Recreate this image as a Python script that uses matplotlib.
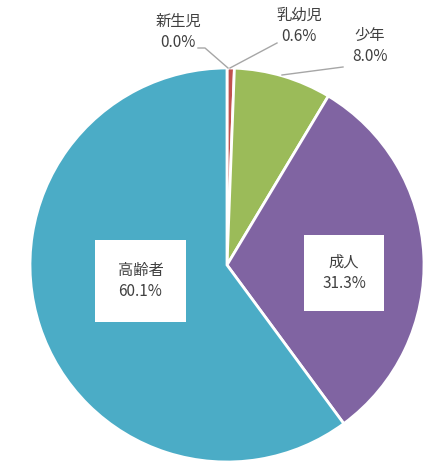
import matplotlib
matplotlib.use("Agg")
import matplotlib.pyplot as plt

plt.rcParams['font.family'] = ['Noto Sans CJK JP', 'DejaVu Sans']

# data
categories = ['新生児', '乳幼児', '少年', '成人', '高齢者']
values = [0.0, 0.6, 8.0, 31.3, 60.1]
colors = ['#A5A5A5', '#C0504D', '#9BBB59', '#8064A2', '#4BACC6']

fig = plt.figure(figsize=(4.46, 4.71), dpi=100)
ax = fig.add_axes([0, 0, 1, 1])

cx, cy, r = 227, 471 - 265, 197
ax.pie(values, colors=colors, startangle=90, counterclock=False,
       center=(cx, cy), radius=r,
       wedgeprops=dict(edgecolor='white', linewidth=2))
ax.set_xlim(0, 446)
ax.set_ylim(0, 471)
ax.set_aspect('equal')
ax.axis('off')

txt = '#404040'
lab = [f'{c}\n{v:.1f}%' for c, v in zip(categories, values)]

# outside labels + leader lines
out_pos = [(178, 471 - 32), (299, 471 - 26), (370, 471 - 46)]
lines = [[(198, 205, 228), (471 - 48, 471 - 48, 471 - 68)],
         [(277, 230), (471 - 43, 471 - 68)],
         [(343, 282), (471 - 67, 471 - 75)]]
for i in range(3):
    ax.text(out_pos[i][0], out_pos[i][1], lab[i], ha='center', va='center',
            fontsize=11, color=txt, linespacing=1.35)
    ax.plot(lines[i][0], lines[i][1], color='#A6A6A6', lw=1)

# inside labels in white boxes
ax.text(140.5, 471 - 281, lab[4], ha='center', va='center', fontsize=11,
        color=txt, linespacing=1.35,
        bbox=dict(boxstyle='square,pad=1.45', fc='white', ec='none'))
ax.text(344, 471 - 273, lab[3], ha='center', va='center', fontsize=11,
        color=txt, linespacing=1.35,
        bbox=dict(boxstyle='square,pad=1.2', fc='white', ec='none'))

fig.savefig('out.png', dpi=100)
